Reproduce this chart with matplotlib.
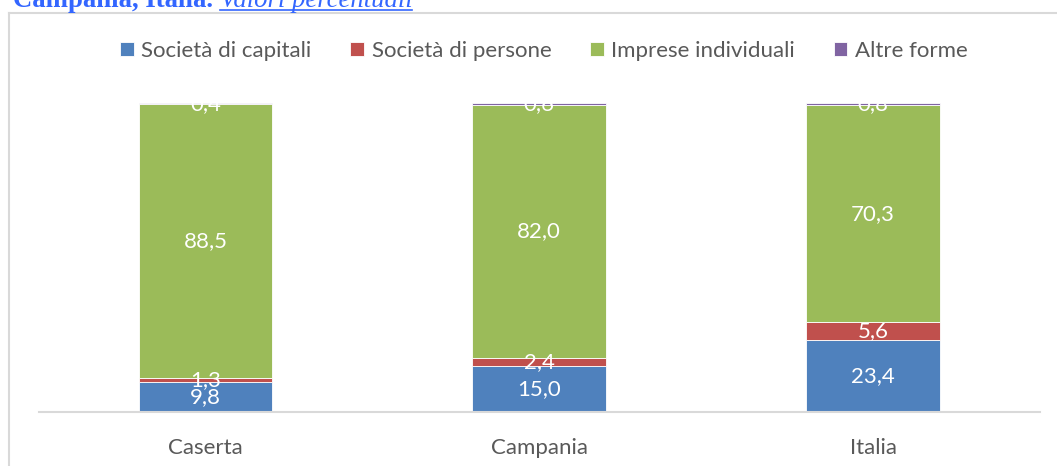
import numpy as np
import matplotlib
matplotlib.use("Agg")
from matplotlib import pyplot as plt
from matplotlib.lines import Line2D

categories = ["Caserta", "Campania", "Italia"]
series_names = ["Società di capitali", "Società di persone", "Imprese individuali", "Altre forme"]
capitali = [9.8, 15.0, 23.4]
persone = [1.3, 2.4, 5.6]
individuali = [88.5, 82.0, 70.3]
altre = [0.4, 0.6, 0.8]
labels = [["9,8", "15,0", "23,4"], ["1,3", "2,4", "5,6"],
          ["88,5", "82,0", "70,3"], ["0,4", "0,6", "0,8"]]

colors = ["#4F81BD", "#C0504D", "#9BBB59", "#8064A2"]
grey = "#595959"
plt.rcParams['font.family'] = ['Lato', 'DejaVu Sans']
fs = 16

fig = plt.figure(figsize=(10.57, 4.66), dpi=100)
ax = fig.add_axes([38.5/1057, 1-412/466, (1040-38.5)/1057, 309/466])

x = np.arange(len(categories))
bottom = np.zeros(len(categories))
for vals, name, col, labs in zip([capitali, persone, individuali, altre], series_names, colors, labels):
	ax.bar(x, vals, 0.4, bottom=bottom, color=col, label=name, edgecolor='white', linewidth=0.6)
	for i in range(len(x)):
		ax.text(x[i], bottom[i] + vals[i]/2, labs[i], ha='center', va='center', color='white', fontsize=fs)
	bottom += np.array(vals)

ax.set_xlim(-0.5, 2.5)
ax.set_ylim(0, 100)
for s in ['top', 'right', 'left']:
	ax.spines[s].set_visible(False)
ax.spines['bottom'].set_color('#D9D9D9')
ax.spines['bottom'].set_linewidth(1.5)
ax.set_yticks([])
ax.set_xticks(x)
ax.set_xticklabels(categories, fontsize=fs, color=grey)
ax.tick_params(axis='x', length=0, pad=19)

leg = fig.legend(loc='center', bbox_to_anchor=(544/1057, 1-51/466), ncol=4, frameon=False,
	fontsize=fs, handlelength=0.6, handleheight=0.6, handletextpad=0.35, columnspacing=1.75)
for t in leg.get_texts():
	t.set_color(grey)

# outer frame (partly cut off)
fig.add_artist(Line2D([9/1057, 1], [1-13/466, 1-13/466], color='#D9D9D9', lw=1.5))
fig.add_artist(Line2D([9/1057, 9/1057], [0, 1-13/466], color='#D9D9D9', lw=1.5))

# title, cut off at the top like in the source
blue = "#3366FF"
t1 = fig.text(13/1057, 1-7/466, "Campania, Italia. ", fontsize=19.3, color=blue, weight='bold',
	family='Liberation Serif', va='baseline')
fig.canvas.draw()
bb = t1.get_window_extent()
t2 = fig.text(bb.x1/1057, 1-7/466, "Valori percentuali", fontsize=19.3, color=blue, style='italic',
	family='Liberation Serif', va='baseline')
fig.canvas.draw()
bb2 = t2.get_window_extent()
fig.add_artist(Line2D([bb2.x0/1057, bb2.x1/1057], [1-10/466, 1-10/466], color=blue, lw=1.2))

fig.savefig("out.png", dpi=100)
